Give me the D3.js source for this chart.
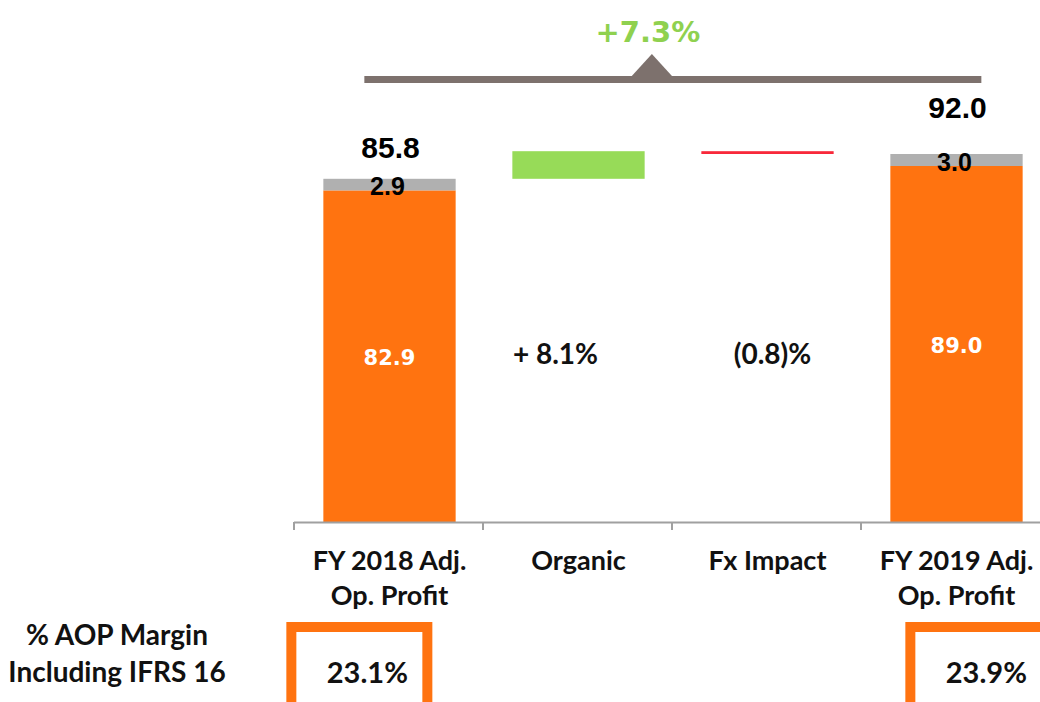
<!DOCTYPE html>
<html>
<head>
<meta charset="utf-8">
<script src="https://cdn.jsdelivr.net/npm/d3@7"></script>
<style>
  body { margin: 0; background: #fff; }
  svg { display: block; }
</style>
</head>
<body>
<div class="chart"></div>
<script>
// chart data
var categories   = ["FY 2018 Adj. Op. Profit", "Organic", "Fx Impact", "FY 2019 Adj. Op. Profit"];
var catLines     = [["FY 2018 Adj.", "Op. Profit"], ["Organic"], ["Fx Impact"], ["FY 2019 Adj.", "Op. Profit"]];
var baseValues   = [82.9, null, null, 89.0];   // orange part
var ifrsValues   = [2.9, null, null, 3.0];     // grey IFRS 16 part
var deltaValues  = [null, 6.9, -0.7, null];    // waterfall steps
var deltaLabels  = ["", "+ 8.1%", "(0.8)%", ""];
var marginLabels = ["23.1%", null, null, "23.9%"];
var growthLabel  = "+7.3%";
var marginTitle  = ["% AOP Margin", "Including IFRS 16"];

var width  = 1040;
var height = 702;
var orange = "#ff7310", grey = "#b0b0b0", green = "#97db58", red = "#f8283a";

var svg = d3.select(".chart").append("svg").attr("width", width).attr("height", height);

var x = d3.scaleBand().domain(categories).range([295, 1051]).paddingInner(0.3).paddingOuter(0.15);
var y = d3.scaleLinear().domain([0, 100]).range([522, 122]);
var step = x.step();

// running totals for the waterfall
var rows = [];
var run = 0;
categories.forEach(function(c, i) {
	if (baseValues[i] != null) {
		run = baseValues[i] + ifrsValues[i];
		rows.push({cat: c, type: "total", base: baseValues[i], ifrs: ifrsValues[i], total: run});
	} else {
		var start = run;
		run = run + deltaValues[i];
		rows.push({cat: c, type: "delta", from: start, to: run, v: deltaValues[i], label: deltaLabels[i]});
	}
});

var totals = rows.filter(function(d) { return d.type == "total"; });
var deltas = rows.filter(function(d) { return d.type == "delta"; });

// orange bars
svg.selectAll(".base").data(totals).enter().append("rect")
	.attr("x", function(d) { return x(d.cat); })
	.attr("width", x.bandwidth())
	.attr("y", function(d) { return y(d.base); })
	.attr("height", function(d) { return y(0) - y(d.base); })
	.attr("fill", orange);

// grey IFRS parts
svg.selectAll(".ifrs").data(totals).enter().append("rect")
	.attr("x", function(d) { return x(d.cat); })
	.attr("width", x.bandwidth())
	.attr("y", function(d) { return y(d.total); })
	.attr("height", function(d) { return y(d.base) - y(d.total); })
	.attr("fill", grey);

// waterfall steps
svg.selectAll(".delta").data(deltas).enter().append("rect")
	.attr("x", function(d) { return x(d.cat); })
	.attr("width", x.bandwidth())
	.attr("y", function(d) { return y(Math.max(d.from, d.to)); })
	.attr("height", function(d) { return Math.abs(y(d.from) - y(d.to)); })
	.attr("fill", function(d) { return d.v >= 0 ? green : red; });

// axis
svg.append("line")
	.attr("x1", x.range()[0] - 1).attr("x2", width)
	.attr("y1", y(0) + 0.5).attr("y2", y(0) + 0.5)
	.attr("stroke", "#a0a0a0").attr("stroke-width", 2);
svg.selectAll(".tick").data(categories).enter().append("line")
	.attr("x1", function(d) { return x(d) - step * 0.15 - 1; })
	.attr("x2", function(d) { return x(d) - step * 0.15 - 1; })
	.attr("y1", y(0)).attr("y2", y(0) + 8)
	.attr("stroke", "#a0a0a0").attr("stroke-width", 2);

// category labels
var cl = svg.selectAll(".cat").data(categories).enter().append("text")
	.attr("text-anchor", "middle")
	.attr("font-family", "Lato, sans-serif").attr("font-weight", "bold")
	.attr("font-size", 27).attr("fill", "#111");
cl.each(function(d, i) {
	var t = d3.select(this);
	catLines[i].forEach(function(line, j) {
		t.append("tspan")
			.attr("x", x(d) + x.bandwidth() / 2)
			.attr("y", 570 + j * 35)
			.text(line);
	});
});

// labels on totals
svg.selectAll(".totlab").data(totals).enter().append("text")
	.attr("x", function(d) { return x(d.cat) + x.bandwidth() / 2 + 1; })
	.attr("y", function(d, i) { return y(d.total) - (i == 0 ? 21 : 36); })
	.attr("text-anchor", "middle")
	.attr("font-family", "Liberation Sans, Arial, sans-serif").attr("font-weight", "bold")
	.attr("font-size", 30).attr("fill", "#000")
	.text(function(d) { return d.total.toFixed(1); });

svg.selectAll(".ifrslab").data(totals).enter().append("text")
	.attr("x", function(d) { return x(d.cat) + x.bandwidth() / 2 - 2; })
	.attr("y", function(d) { return y(d.base) + 5; })
	.attr("text-anchor", "middle")
	.attr("font-family", "Liberation Sans, Arial, sans-serif").attr("font-weight", "bold")
	.attr("font-size", 25).attr("fill", "#000")
	.text(function(d) { return d.ifrs.toFixed(1); });

svg.selectAll(".baselab").data(totals).enter().append("text")
	.attr("x", function(d) { return x(d.cat) + x.bandwidth() / 2; })
	.attr("y", function(d) { return (y(d.base) + y(0)) / 2 + 9; })
	.attr("text-anchor", "middle")
	.attr("font-family", "DejaVu Sans, sans-serif").attr("font-weight", "bold")
	.attr("font-size", 21).attr("fill", "#fff")
	.text(function(d) { return d.base.toFixed(1); });

// delta percentage labels
svg.selectAll(".dlab").data(deltas).enter().append("text")
	.attr("x", function(d) { return x(d.cat) + x.bandwidth() / 2 - 23 + (d.v < 0 ? 28 : 0); })
	.attr("y", 364)
	.attr("text-anchor", "middle")
	.attr("font-family", "Lato, sans-serif").attr("font-weight", "bold")
	.attr("font-size", 28).attr("fill", "#111")
	.text(function(d) { return d.label; });

// growth bracket
var bx1 = x(categories[0]) + 41;
var bx2 = x(categories[3]) + 91;
var apex = bx1 + (bx2 - bx1) * 0.466;
svg.append("rect")
	.attr("x", bx1).attr("y", 76).attr("width", bx2 - bx1).attr("height", 7)
	.attr("fill", "#7d716d");
svg.append("path")
	.attr("d", "M" + (apex - 21) + ",77 L" + apex + ",54 L" + (apex + 21) + ",77 Z")
	.attr("fill", "#7d716d");
svg.append("text")
	.attr("x", apex - 4).attr("y", 42)
	.attr("text-anchor", "middle")
	.attr("font-family", "DejaVu Sans, sans-serif").attr("font-weight", "bold")
	.attr("font-size", 29).attr("fill", "#8fd14f")
	.text(growthLabel);

// margin boxes
var margins = categories.map(function(c, i) { return {cat: c, i: i, label: marginLabels[i]}; })
	.filter(function(d) { return d.label != null; });
var boxX = function(d) { return d.i == 0 ? x(d.cat) - 37 : x(d.cat) + 15; };
svg.selectAll(".mbox").data(margins).enter().append("rect")
	.attr("x", function(d) { return boxX(d) + 5; })
	.attr("y", 627)
	.attr("width", 136).attr("height", 120)
	.attr("fill", "#fff").attr("stroke", orange).attr("stroke-width", 10);
svg.selectAll(".mlab").data(margins).enter().append("text")
	.attr("x", function(d) { return boxX(d) + 73 + 8; })
	.attr("y", 683)
	.attr("text-anchor", "middle")
	.attr("font-family", "Lato, sans-serif").attr("font-weight", "bold")
	.attr("font-size", 29).attr("fill", "#111")
	.text(function(d) { return d.label; });

var mt = svg.append("text")
	.attr("text-anchor", "middle")
	.attr("font-family", "Lato, sans-serif").attr("font-weight", "bold")
	.attr("font-size", 28).attr("fill", "#111");
marginTitle.forEach(function(line, j) {
	mt.append("tspan").attr("x", 117).attr("y", 645 + j * 37).text(line);
});
</script>
</body>
</html>
